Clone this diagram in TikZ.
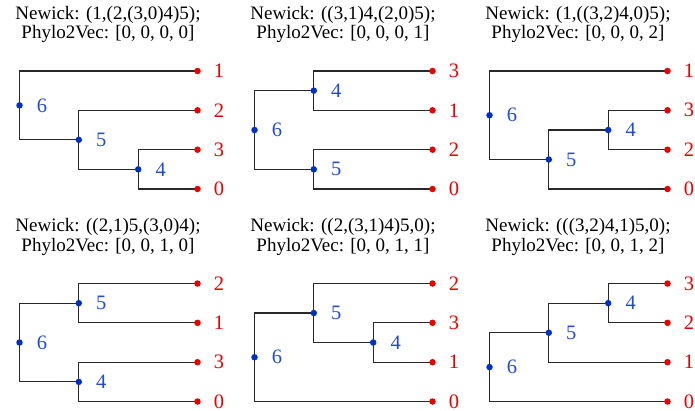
\documentclass[tikz,border=0pt]{standalone}
\usepackage{fontspec}
\setmainfont{Liberation Serif}
\usetikzlibrary{backgrounds}
\definecolor{dotblue}{RGB}{0,48,200}
\definecolor{labblue}{RGB}{30,75,215}
\definecolor{leafred}{RGB}{235,0,0}
\definecolor{branchcol}{RGB}{40,40,40}
\tikzset{
  leafdot/.style={circle,fill=leafred,inner sep=0pt,minimum size=6.5pt},
  innerdot/.style={circle,fill=dotblue,inner sep=0pt,minimum size=6.5pt},
  leaflab/.style={text=leafred,inner sep=0pt,font=\fontsize{20.5}{22}\selectfont},
  innerlab/.style={text=labblue,inner sep=0pt,font=\fontsize{20.5}{22}\selectfont},
  branch/.style={draw=branchcol,line width=1.05pt},
  titletext/.style={anchor=base,inner sep=0pt,font=\fontsize{19}{20}\selectfont}
}
\newcommand\leafat[3]{\node[leafdot] (#1) at (197.5,#2) {};
  \node[leaflab] (#1t) at ([xshift=21.5pt]#1.center) {#3};}
\newcommand\innerat[4]{\node[innerdot] (#1) at (#2,#3) {};
  \node[innerlab] (#1t) at ([xshift=22.5pt]#1.center) {#4};}
\newcommand\joinkids[3]{\begin{pgfonlayer}{background}
  \draw[branch] (#2.center) -| (#1.center) |- (#3.center);\end{pgfonlayer}}
\newcommand\titles[3]{\node[titletext] (#1n) at (108,19) {Newick: #2};
  \node[titletext] (#1p) at (108,38.7) {Phylo2Vec: #3};}
\begin{document}
\begin{tikzpicture}[x=1pt,y=-1pt]
\useasboundingbox (0,0) rectangle (695,410);
% Panel A
\begin{scope}[shift={(0,0)}]
\titles{A}{(1,(2,(3,0)4)5);}{[0, 0, 0, 0]}
\leafat{A1}{71}{1}
\leafat{A2}{110.3}{2}
\leafat{A3}{149.7}{3}
\leafat{A0}{189}{0}
\innerat{A4}{138.2}{169.35}{4}
\innerat{A5}{78.8}{139.8}{5}
\innerat{A6}{19.5}{105.4}{6}
\joinkids{A4}{A3}{A0}
\joinkids{A5}{A2}{A4}
\joinkids{A6}{A1}{A5}
\end{scope}
% Panel B
\begin{scope}[shift={(235,0)}]
\titles{B}{((3,1)4,(2,0)5);}{[0, 0, 0, 1]}
\leafat{B3}{71}{3}
\leafat{B1}{110.3}{1}
\leafat{B2}{149.7}{2}
\leafat{B0}{189}{0}
\innerat{B4}{78.8}{90.65}{4}
\innerat{B5}{78.8}{169.35}{5}
\innerat{B6}{19.5}{130}{6}
\joinkids{B4}{B3}{B1}
\joinkids{B5}{B2}{B0}
\joinkids{B6}{B4}{B5}
\end{scope}
% Panel C
\begin{scope}[shift={(470,0)}]
\titles{C}{(1,((3,2)4,0)5);}{[0, 0, 0, 2]}
\leafat{C1}{71}{1}
\leafat{C3}{110.3}{3}
\leafat{C2}{149.7}{2}
\leafat{C0}{189}{0}
\innerat{C4}{138.2}{130}{4}
\innerat{C5}{78.8}{159.5}{5}
\innerat{C6}{19.5}{115.25}{6}
\joinkids{C4}{C3}{C2}
\joinkids{C5}{C4}{C0}
\joinkids{C6}{C1}{C5}
\end{scope}
% Panel D
\begin{scope}[shift={(0,212.5)}]
\titles{D}{((2,1)5,(3,0)4);}{[0, 0, 1, 0]}
\leafat{D2}{71}{2}
\leafat{D1}{110.3}{1}
\leafat{D3}{149.7}{3}
\leafat{D0}{189}{0}
\innerat{D5}{78.8}{90.65}{5}
\innerat{D4}{78.8}{169.35}{4}
\innerat{D6}{19.5}{130}{6}
\joinkids{D5}{D2}{D1}
\joinkids{D4}{D3}{D0}
\joinkids{D6}{D5}{D4}
\end{scope}
% Panel E
\begin{scope}[shift={(235,212.5)}]
\titles{E}{((2,(3,1)4)5,0);}{[0, 0, 1, 1]}
\leafat{E2}{71}{2}
\leafat{E3}{110.3}{3}
\leafat{E1}{149.7}{1}
\leafat{E0}{189}{0}
\innerat{E4}{138.2}{130}{4}
\innerat{E5}{78.8}{100.5}{5}
\innerat{E6}{19.5}{144.75}{6}
\joinkids{E4}{E3}{E1}
\joinkids{E5}{E2}{E4}
\joinkids{E6}{E5}{E0}
\end{scope}
% Panel F
\begin{scope}[shift={(470,212.5)}]
\titles{F}{(((3,2)4,1)5,0);}{[0, 0, 1, 2]}
\leafat{F3}{71}{3}
\leafat{F2}{110.3}{2}
\leafat{F1}{149.7}{1}
\leafat{F0}{189}{0}
\innerat{F4}{138.2}{90.65}{4}
\innerat{F5}{78.8}{120.2}{5}
\innerat{F6}{19.5}{154.6}{6}
\joinkids{F4}{F3}{F2}
\joinkids{F5}{F4}{F1}
\joinkids{F6}{F5}{F0}
\end{scope}
\end{tikzpicture}
\end{document}
